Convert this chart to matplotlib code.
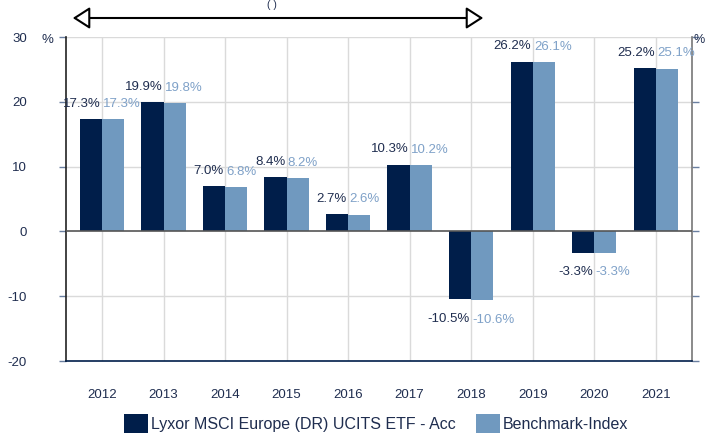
import matplotlib
matplotlib.use("Agg")
import matplotlib.pyplot as plt
import numpy as np

plt.rcParams['font.family'] = ['Liberation Sans', 'DejaVu Sans']

years = ["2012", "2013", "2014", "2015", "2016", "2017", "2018", "2019", "2020", "2021"]
fund = [17.3, 19.9, 7.0, 8.4, 2.7, 10.3, -10.5, 26.2, -3.3, 25.2]
bench = [17.3, 19.8, 6.8, 8.2, 2.6, 10.2, -10.6, 26.1, -3.3, 25.1]
fund_name = "Lyxor MSCI Europe (DR) UCITS ETF - Acc"
bench_name = "Benchmark-Index"
yticks = [-20, -10, 0, 10, 20, 30]

DARK = "#001E4A"
LIGHT = "#7099BF"
TXT = "#1F2D4F"
LTXT = "#7FA1C8"

fig = plt.figure(figsize=(7.07, 4.33), dpi=100)
ax = fig.add_axes([66/707, 1-361/433, (692-66)/707, (361-37)/433])

x = np.arange(len(years))
w = 0.36
ax.bar(x - w/2, fund, width=w, color=DARK, zorder=3, label=fund_name)
ax.bar(x + w/2, bench, width=w, color=LIGHT, zorder=3, label=bench_name)

ax.set_xlim(-0.585, 9.59)
ax.set_ylim(-20, 30)
ax.set_yticks(yticks)
ax.set_yticklabels([str(t) for t in yticks])
ax.set_xticks(x)
ax.set_xticklabels(years)

# grid
for yv in yticks:
    if yv not in (0, -20):
        ax.axhline(yv, color="#DADADA", lw=1, zorder=0)
for xv in x:
    ax.axvline(xv, color="#DADADA", lw=1, zorder=0)
ax.axhline(0, color="#555555", lw=1.2, zorder=4)

ax.spines["top"].set_visible(False)
ax.spines["left"].set_color("#222222")
ax.spines["left"].set_linewidth(1.2)
ax.spines["bottom"].set_color(DARK)
ax.spines["bottom"].set_linewidth(1.2)
ax.spines["right"].set_color("#777777")
ax.spines["right"].set_linewidth(1.2)

ax.tick_params(axis="y", which="both", direction="out", length=5, color="#6A7FA0",
               labelsize=9.5, labelcolor=TXT, pad=23, right=True, width=1)
ax.tick_params(axis="x", length=0, labelsize=9.5, labelcolor=TXT, pad=20)

fig.text(47/707, 1-40/433, "%", fontsize=9.5, color=TXT, ha="center", va="center")
fig.text(694/707, 1-40/433, "%", fontsize=9, color=TXT, ha="left", va="center")

# value labels
for i, (f, b) in enumerate(zip(fund, bench)):
    off_f = 11 if f >= 0 else -14
    off_b = 11 if b >= 0 else -14
    ax.annotate(f"{b:.1f}%", (i + 0.02, b), xytext=(0, off_b), textcoords="offset points",
                ha="left", va="center", fontsize=9.5, color=LTXT, zorder=5)
    ax.annotate(f"{f:.1f}%", (i - 0.02, f), xytext=(0, off_f), textcoords="offset points",
                ha="right", va="center", fontsize=9.5, color=TXT, zorder=6)

# top arrow and caption
fig.add_artist(matplotlib.patches.FancyArrowPatch(
    (70/707, 1-18/433), (486/707, 1-18/433), transform=fig.transFigure,
    arrowstyle="<|-|>,head_length=7,head_width=4.5", mutation_scale=1.5,
    fc="white", ec="black", lw=1.5))
fig.text(272/707, 0.999, "( )", fontsize=7.5, color=TXT, ha="center", va="top")

leg = fig.legend(loc="center", bbox_to_anchor=(376/707, 1-424/433), ncol=2, frameon=False,
                 fontsize=11.5, handlelength=1.5, handleheight=1.5, handletextpad=0.15,
                 columnspacing=1.3, borderaxespad=0)
for t in leg.get_texts():
    t.set_color(TXT)

fig.savefig("out.png", dpi=100)
